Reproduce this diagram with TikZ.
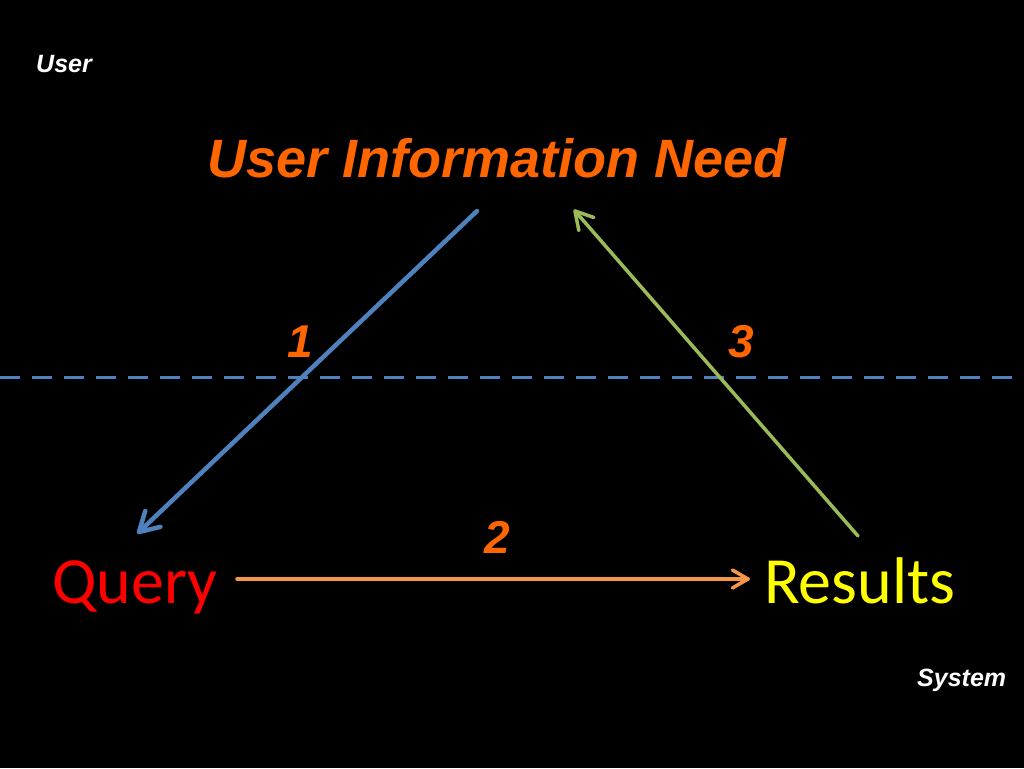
\documentclass[tikz,border=0pt]{standalone}
\usepackage{fontspec}
\setmainfont{Liberation Sans}
\newfontfamily\calib{Carlito}
\usetikzlibrary{calc}
\definecolor{bg}{RGB}{0,0,0}
\definecolor{uin}{RGB}{255,102,0}
\definecolor{blueA}{RGB}{79,129,189}
\definecolor{greenA}{RGB}{155,187,89}
\definecolor{orangeA}{RGB}{247,150,70}
\definecolor{qred}{RGB}{255,0,0}
\definecolor{ryel}{RGB}{255,255,0}
\tikzset{
  corner/.style={text=white,font=\bfseries\itshape\fontsize{25}{28}\selectfont,inner sep=0pt,anchor=base west},
  num/.style={text=uin,font=\bfseries\itshape\fontsize{46}{50}\selectfont,inner sep=0pt,anchor=base},
  big/.style={font=\calib\fontsize{66}{70}\selectfont,inner sep=0pt,anchor=base west},
  conn/.style={line cap=round,line join=round},
}
\newcommand{\openarrow}[5]{%
  \draw[conn,#1,line width=#2] (#3) -- (#4);
  \draw[conn,#1,line width=#2] ($(#4)!#5!30:(#3)$) -- (#4) -- ($(#4)!#5!-30:(#3)$);
}
\begin{document}
\begin{tikzpicture}[x=1pt,y=-1pt]
\fill[bg] (0,0) rectangle (1024,768);
\useasboundingbox (0,0) rectangle (1024,768);
\node[corner] (user) at (36,72) {User};
\node[corner] (system) at (917,686) {System};
\node[text=uin,font=\bfseries\itshape\fontsize{54}{60}\selectfont,inner sep=0pt,anchor=base] (need) at (497,177) {User Information Need};
\node[big,text=qred] (query) at (52,603) {Query};
\node[big,text=ryel] (results) at (764,603) {Results};
\node[num] (n1) at (300,357) {1};
\node[num] (n2) at (497,553) {2};
\node[num] (n3) at (741,357) {3};
% dashed boundary
\coordinate (dl) at (0,377);
\coordinate (dr) at (1024,377);
\draw[blueA,line width=3pt,dash pattern=on 20pt off 12pt] (dl) -- (dr);
% arrows
\coordinate (a1s) at (477,211);
\coordinate (a1e) at (139,532);
\coordinate (a3s) at (858,536);
\coordinate (a3e) at (575,211);
\coordinate (a2s) at (237,579);
\coordinate (a2e) at (748,579);
\openarrow{blueA}{4.5pt}{a1s}{a1e}{22pt}
\openarrow{greenA}{3.5pt}{a3s}{a3e}{20pt}
\openarrow{orangeA}{3.5pt}{a2s}{a2e}{18pt}
\end{tikzpicture}
\end{document}
